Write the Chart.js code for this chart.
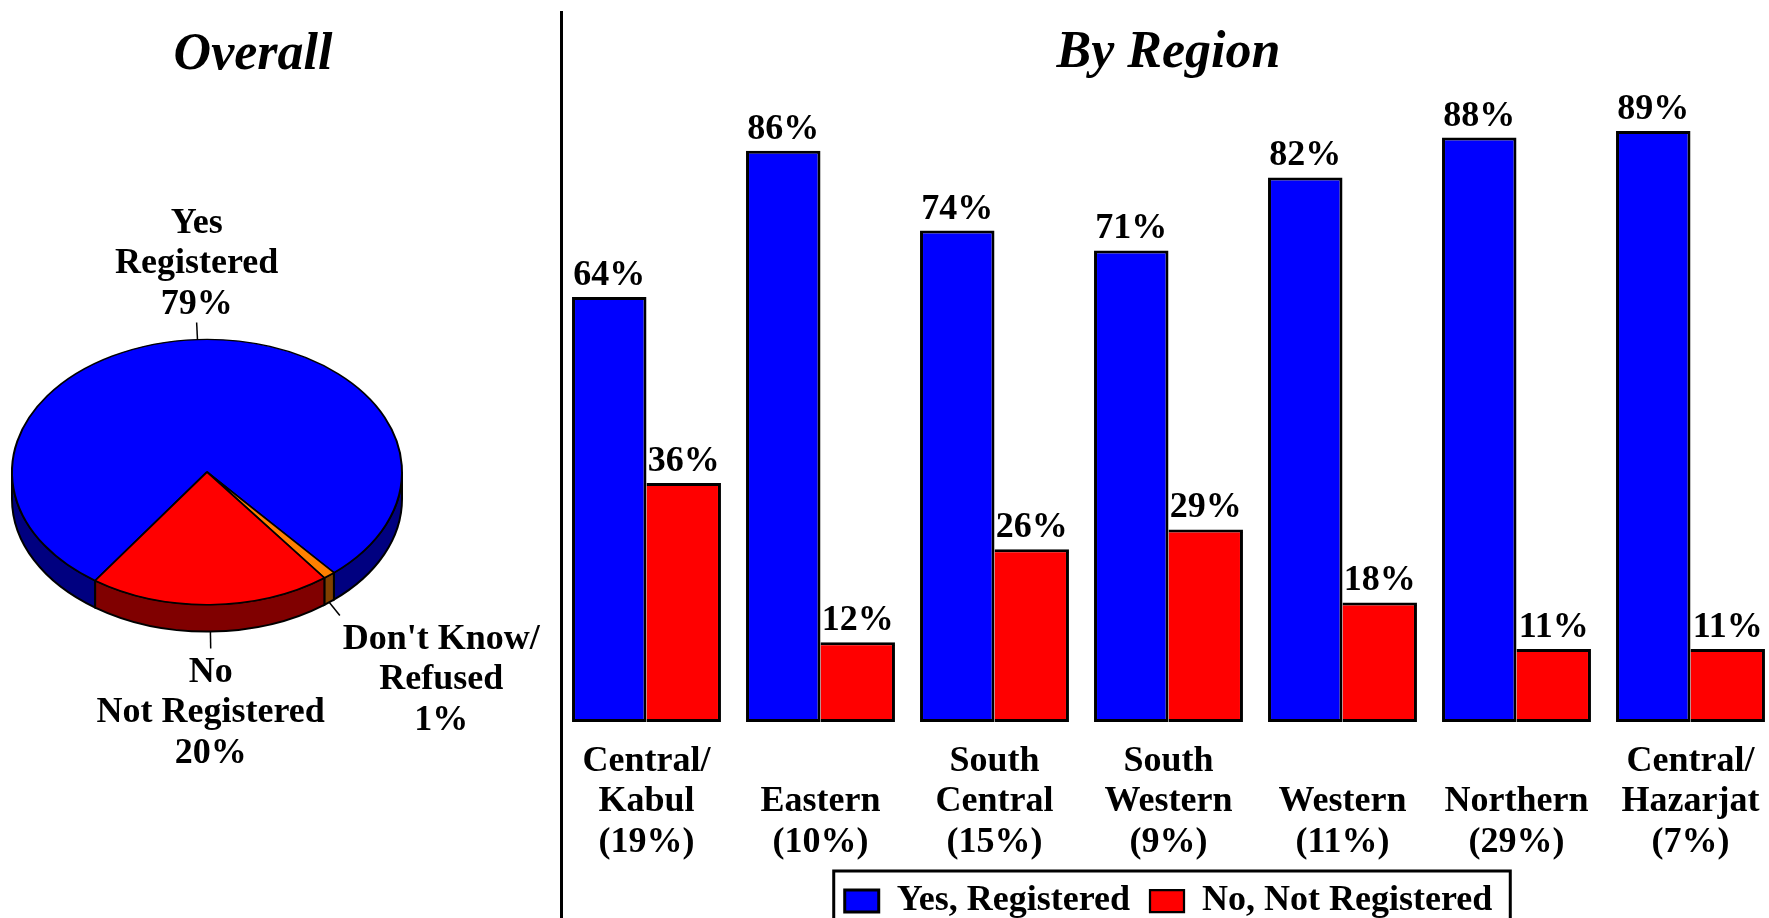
<!DOCTYPE html>
<html>
<head>
<meta charset="utf-8">
<script src="https://cdn.jsdelivr.net/npm/chart.js@4.4.1/dist/chart.umd.min.js"></script>
<style>
html,body{margin:0;padding:0;background:#fff;overflow:hidden;width:1769px;height:918px;}
#pieChart{position:absolute;left:0;top:0;}
#barChart{position:absolute;left:540px;top:0;}
#divider{position:absolute;left:560px;top:11px;width:3px;height:907px;background:#000;}
</style>
</head>
<body>
<canvas id="pieChart" width="557" height="918"></canvas>
<canvas id="barChart" width="1250" height="929"></canvas>
<div id="divider"></div>
<script>
const serif='"Liberation Serif", "Times New Roman", serif';

// overall pie
const pieText=[['Yes','Registered'],["Don't Know/",'Refused'],['No','Not Registered']];
const pieValues=[79,1,20];
const pieColors=['#0000FF','#FF8000','#FF0000'];
const pieSides=['#000080','#804000','#800000'];

// by region
const regions=[['Central/','Kabul','(19%)'],['Eastern','(10%)'],['South','Central','(15%)'],['South','Western','(9%)'],['Western','(11%)'],['Northern','(29%)'],['Central/','Hazarjat','(7%)']];
const yesRegistered=[64,86,74,71,82,88,89];
const notRegistered=[36,12,26,29,18,11,11];

const tilt=0.68, depth=27;

const pie3d={
  id:'pie3d',
  beforeDatasetsDraw(chart){
    const ctx=chart.ctx;
    const arcs=chart.getDatasetMeta(0).data;
    ctx.save();
    ctx.lineWidth=2;
    ctx.strokeStyle='#000';
    arcs.forEach((a,i)=>{
      const cx=a.x, cy=a.y, r=a.outerRadius;
      for(let k=-1;k<=2;k++){
        const lo=Math.max(a.startAngle,k*2*Math.PI);
        const hi=Math.min(a.endAngle,k*2*Math.PI+Math.PI);
        if(hi>lo){
          ctx.beginPath();
          ctx.ellipse(cx,cy,r,r*tilt,0,lo,hi);
          ctx.ellipse(cx,cy+depth,r,r*tilt,0,hi,lo,true);
          ctx.closePath();
          ctx.fillStyle=pieSides[i];
          ctx.fill();
          ctx.stroke();
        }
      }
    });
    ctx.restore();
    // squash the top faces into an ellipse
    const a=arcs[0];
    ctx.save();
    ctx.translate(a.x,a.y);
    ctx.scale(1,tilt);
    ctx.translate(-a.x,-a.y);
  },
  afterDatasetsDraw(chart){
    chart.ctx.restore();
  },
  afterDraw(chart){
    const ctx=chart.ctx;
    const arcs=chart.getDatasetMeta(0).data;
    ctx.save();
    ctx.fillStyle='#000';
    ctx.strokeStyle='#000';
    ctx.lineWidth=1.5;
    ctx.font='bold 36px '+serif;
    ctx.textAlign='center';
    ctx.textBaseline='middle';
    const lh=40.6;
    arcs.forEach((a,i)=>{
      const m=(a.startAngle+a.endAngle)/2;
      const c=Math.cos(m), s=Math.sin(m);
      const x0=a.x+a.outerRadius*c;
      const y0=a.y+a.outerRadius*tilt*s+(s>0?depth:0);
      const x1=x0+17*c, y1=y0+17*s;
      ctx.beginPath();ctx.moveTo(x0,y0);ctx.lineTo(x1,y1);ctx.stroke();
      const lines=pieText[i].concat([pieValues[i]+'%']);
      const firstY=s<0?y1-18-(lines.length-1)*lh:y1+24;
      let bx=x1;
      if(c>0.4){
        const w=Math.max(...lines.map(t=>ctx.measureText(t).width));
        bx=x1+3+w/2;
      }
      lines.forEach((t,j)=>ctx.fillText(t,bx,firstY+j*lh));
    });
    ctx.font='italic bold 52px '+serif;
    ctx.textBaseline='alphabetic';
    ctx.fillText('Overall',253,69);
    ctx.restore();
  }
};

new Chart(document.getElementById('pieChart'),{
  type:'pie',
  data:{
    labels:pieText.map(t=>t.join(' ')),
    datasets:[{
      data:pieValues,
      backgroundColor:pieColors,
      borderColor:'#000',
      borderWidth:2,
      clip:false
    }]
  },
  options:{
    responsive:false,
    animation:false,
    rotation:215,
    layout:{padding:{left:11,right:154,top:276,bottom:250}},
    plugins:{legend:{display:false},tooltip:{enabled:false}}
  },
  plugins:[pie3d]
});

const barValues={
  id:'barValues',
  afterDatasetsDraw(chart){
    const ctx=chart.ctx;
    ctx.save();
    ctx.font='bold 36px '+serif;
    ctx.fillStyle='#000';
    ctx.textAlign='center';
    ctx.textBaseline='alphabetic';
    chart.data.datasets.forEach((ds,i)=>{
      chart.getDatasetMeta(i).data.forEach((bar,j)=>{
        ctx.fillText(ds.data[j]+'%',bar.x,bar.y-12);
      });
    });
    ctx.restore();
  }
};

const legendFrame={
  id:'legendFrame',
  afterDraw(chart){
    const hb=chart.legend.legendHitBoxes;
    if(!hb||!hb.length) return;
    const ctx=chart.ctx;
    const last=hb[hb.length-1];
    const l=hb[0].left-11, r=last.left+last.width+18, t=hb[0].top-12;
    ctx.save();
    ctx.lineWidth=3;
    ctx.strokeStyle='#000';
    ctx.strokeRect(l,t,r-l,chart.height+20-t);
    ctx.restore();
  }
};

new Chart(document.getElementById('barChart'),{
  type:'bar',
  data:{
    labels:regions,
    datasets:[{
      label:'Yes, Registered',
      data:yesRegistered,
      backgroundColor:'#0000FF',
      borderColor:'#000',
      borderWidth:3,
      borderSkipped:false
    },{
      label:'No, Not Registered',
      data:notRegistered,
      backgroundColor:'#FF0000',
      borderColor:'#000',
      borderWidth:{top:3,right:3,bottom:3,left:0},
      borderSkipped:false
    }]
  },
  options:{
    responsive:false,
    animation:false,
    barPercentage:1,
    categoryPercentage:0.856,
    layout:{padding:{left:19.5,right:12.5,top:0,bottom:0}},
    scales:{
      x:{
        grid:{display:false,drawTicks:false},
        border:{display:false},
        ticks:{color:'#000',font:{family:serif,size:36,weight:'bold',lineHeight:1.13},padding:39.5,autoSkip:false,maxRotation:0,crossAlign:'far'},
        afterFit(scale){
          scale.height=141;
          scale.paddingLeft=0;
          scale.paddingRight=0;
        }
      },
      y:{display:false,min:0,max:96}
    },
    plugins:{
      title:{display:true,text:'By Region',color:'#000',font:{family:serif,size:52,weight:'bold',style:'italic',lineHeight:1.2},padding:{top:22,bottom:0}},
      legend:{position:'bottom',labels:{color:'#000',font:{family:serif,size:36,weight:'bold'},boxWidth:34,boxHeight:22,padding:20}},
      tooltip:{enabled:false}
    }
  },
  plugins:[barValues,legendFrame]
});
</script>
</body>
</html>
